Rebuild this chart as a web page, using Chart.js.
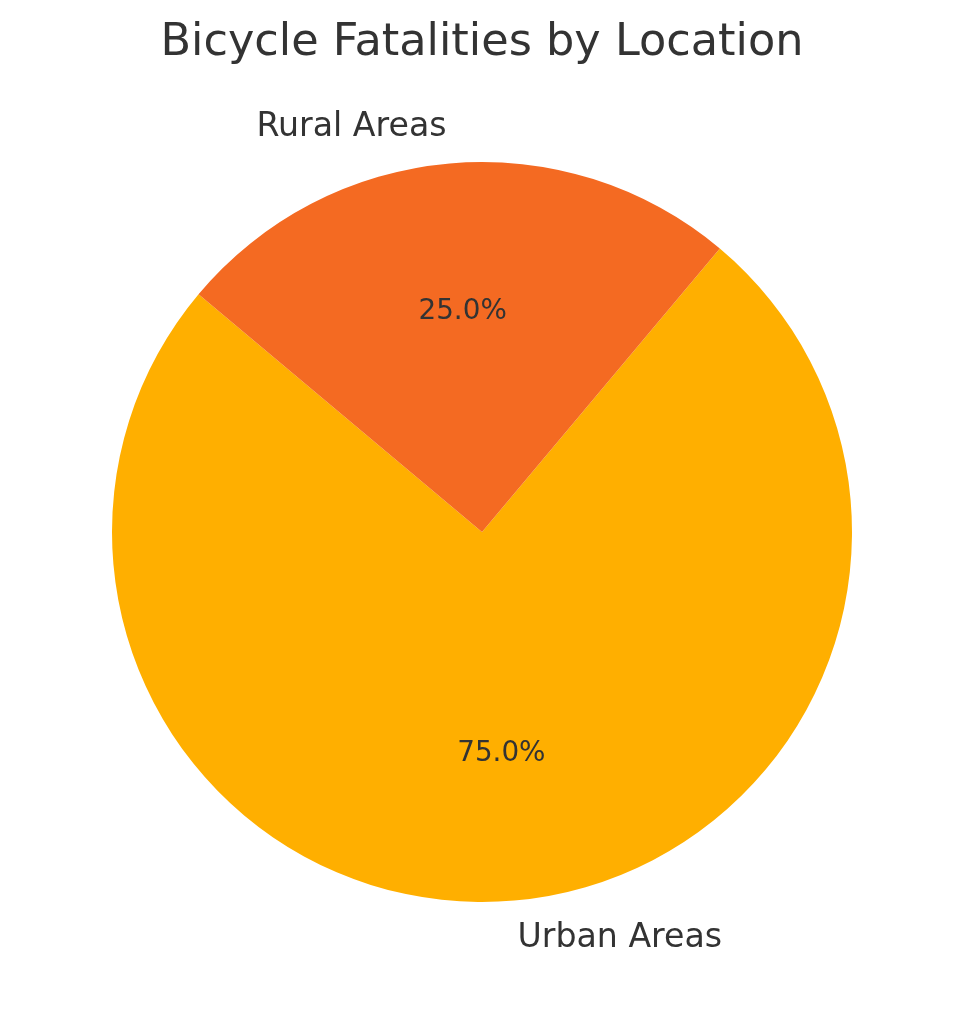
<!doctype html>
<html lang="en">
<head>
    <meta charset="UTF-8">
    <title>Bicycle Fatalities by Location</title>
    <script src="https://cdn.jsdelivr.net/npm/chart.js"></script>
    <style>
        html, body { margin: 0; padding: 0; background: #fff; }
        canvas { display: block; }
    </style>
</head>
<body>
    <canvas id="chart" width="964" height="1014"></canvas>
    <script>
        // data
        const locations = ['Urban Areas', 'Rural Areas'];
        const shares = [75, 25];
        const sliceColors = ['#ffaf00', '#f46a22'];
        const chartTitle = 'Bicycle Fatalities by Location';

        const textColor = '#333333';
        const fontFamily = '"DejaVu Sans", sans-serif';

        // matplotlib-ish labels: names outside at 1.1r, percentages inside at 0.6r
        const pieLabels = {
            id: 'pieLabels',
            afterDraw(chart) {
                const ctx = chart.ctx;
                const meta = chart.getDatasetMeta(0);
                const total = shares.reduce((a, b) => a + b, 0);

                ctx.save();
                ctx.fillStyle = textColor;

                // title
                ctx.font = '44.6px ' + fontFamily;
                ctx.textAlign = 'center';
                ctx.textBaseline = 'alphabetic';
                ctx.fillText(chartTitle, chart.width / 2, 55);

                meta.data.forEach((arc, i) => {
                    const p = arc.getProps(['x', 'y', 'startAngle', 'endAngle', 'outerRadius']);
                    const mid = (p.startAngle + p.endAngle) / 2;
                    const cos = Math.cos(mid), sin = Math.sin(mid);

                    ctx.textBaseline = 'middle';
                    ctx.font = '33.2px ' + fontFamily;
                    ctx.textAlign = cos >= 0 ? 'left' : 'right';
                    ctx.fillText(locations[i], p.x + cos * p.outerRadius * 1.1, p.y + sin * p.outerRadius * 1.1 + 1);

                    ctx.font = '27.8px ' + fontFamily;
                    ctx.textAlign = 'center';
                    const pct = (shares[i] / total * 100).toFixed(1) + '%';
                    ctx.fillText(pct, p.x + cos * p.outerRadius * 0.6, p.y + sin * p.outerRadius * 0.6 + 1);
                });
                ctx.restore();
            }
        };

        new Chart(document.getElementById('chart').getContext('2d'), {
            type: 'pie',
            data: {
                labels: locations,
                datasets: [{
                    data: shares,
                    backgroundColor: sliceColors,
                    borderWidth: 0
                }]
            },
            options: {
                responsive: false,
                animation: false,
                devicePixelRatio: 1,
                rotation: 40,
                layout: {
                    padding: { left: 112, right: 112, top: 162, bottom: 112 }
                },
                plugins: {
                    legend: { display: false },
                    tooltip: { enabled: false }
                }
            },
            plugins: [pieLabels]
        });
    </script>
</body>
</html>
